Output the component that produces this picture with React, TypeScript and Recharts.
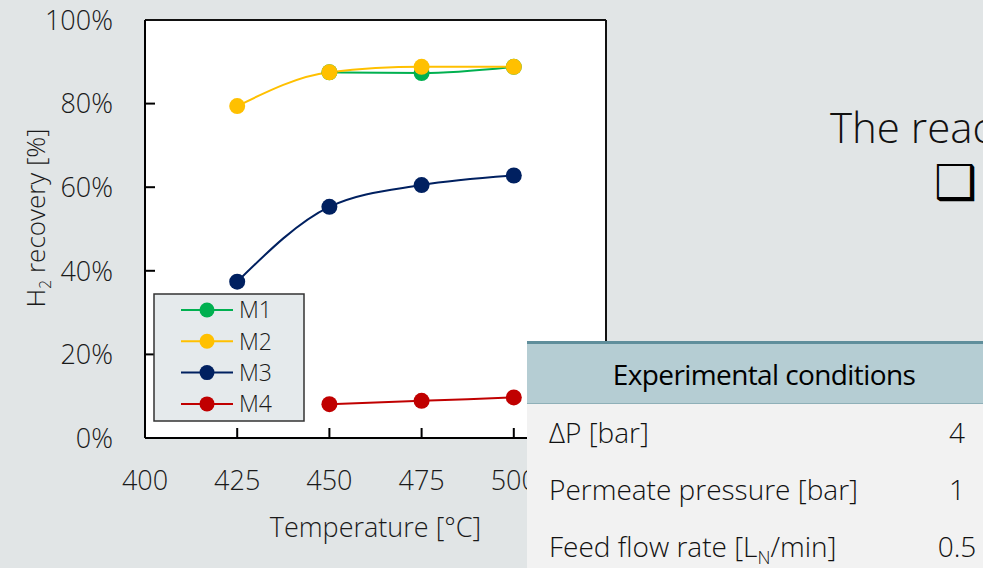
import React from 'react';
import { LineChart, Line, XAxis, YAxis, CartesianGrid, Legend, ReferenceLine } from 'recharts';

// temperatures and H2 recovery (%) for each membrane
const temperatures = [425, 450, 475, 500];
const m1 = [null, 87.5, 87.3, 88.8];
const m2 = [79.4, 87.5, 88.8, 88.8];
const m3 = [37.4, 55.3, 60.5, 62.8];
const m4 = [null, 8.1, 8.9, 9.7];

const xTicks = [400, 425, 450, 475, 500];
const yTicks = [0, 20, 40, 60, 80, 100];

const series = [
  { key: 'M1', color: '#00b050' },
  { key: 'M2', color: '#ffc000' },
  { key: 'M3', color: '#002060' },
  { key: 'M4', color: '#c00000' },
];

const conditionLabels = ['ΔP [bar]', 'Permeate pressure [bar]', 'Feed flow rate [L_N/min]'];
const conditionValues = ['4', '1', '0.5'];

const data = temperatures.map((t, i) => ({ t, M1: m1[i], M2: m2[i], M3: m3[i], M4: m4[i] }));

const FONT = "'Open Sans', 'Segoe UI', sans-serif";
const BG = '#e1e5e6';

const YTick = (props: any) => {
  const { x, y, payload } = props;
  return (
    <g>
      {payload.value > 0 && payload.value < 100 && (
        <line x1={x + 32} x2={x + 42} y1={y} y2={y} stroke="#000" strokeWidth={2} />
      )}
      <text x={x} y={y} dy="0.36em" textAnchor="end" fontSize={27} fontWeight={300} fill="#1a1a1a" fontFamily={FONT}>
        {payload.value}%
      </text>
    </g>
  );
};

const XTick = (props: any) => {
  const { x, y, payload } = props;
  return (
    <g>
      {payload.value > 400 && (
        <line x1={x} x2={x} y1={y} y2={y - 10} stroke="#000" strokeWidth={2} />
      )}
      <text x={x} y={y + 52} textAnchor="middle" fontSize={27} fontWeight={300} fill="#1a1a1a" fontFamily={FONT}>
        {payload.value}
      </text>
    </g>
  );
};

const LegendBox = () => (
  <svg width={152} height={129} style={{ display: 'block' }}>
    <rect x={1} y={1} width={150} height={127} fill="#e5eaec" stroke="#333" strokeWidth={1.5} />
    {series.map((s, i) => {
      const cy = 17 + i * 31.3;
      return (
        <g key={s.key}>
          <line x1={28} x2={80} y1={cy} y2={cy} stroke={s.color} strokeWidth={2} />
          <circle cx={54} cy={cy} r={7.5} fill={s.color} />
          <text x={86} y={cy} dy="0.36em" fontSize={23} fontWeight={300} fill="#1a1a1a" fontFamily={FONT}>
            {s.key}
          </text>
        </g>
      );
    })}
  </svg>
);

export default function App() {
  return (
    <div style={{ position: 'fixed', left: 0, top: 0, width: 983, height: 568, overflow: 'hidden', background: BG, fontFamily: FONT }}>
      <div style={{ position: 'absolute', left: 0, top: 0 }}>
        <LineChart width={983} height={568} data={data} margin={{ top: 20, right: 377, bottom: 70, left: 0 }}>
          <CartesianGrid horizontal={false} vertical={false} fill="#ffffff" />
          <XAxis
            dataKey="t"
            type="number"
            domain={[400, 525]}
            ticks={xTicks}
            height={60}
            tickSize={0}
            tickMargin={0}
            tickLine={false}
            axisLine={{ stroke: '#000', strokeWidth: 2 }}
            tick={<XTick />}
            label={{
              content: (p: any) => (
                <text x={p.viewBox.x + p.viewBox.width / 2} y={p.viewBox.y + 99} textAnchor="middle" fontSize={27} fontWeight={300} fill="#1a1a1a" fontFamily={FONT}>
                  Temperature [°C]
                </text>
              ),
            }}
          />
          <YAxis
            type="number"
            domain={[0, 100]}
            ticks={yTicks}
            width={145}
            tickSize={0}
            tickMargin={32}
            tickLine={false}
            axisLine={{ stroke: '#000', strokeWidth: 2 }}
            tick={<YTick />}
            label={{
              content: () => (
                <text transform="translate(45,218) rotate(-90)" textAnchor="middle" fontSize={26} fontWeight={300} fill="#1a1a1a" fontFamily={FONT}>
                  H<tspan fontSize={16} dy={6}>2</tspan>
                  <tspan dy={-6}> recovery [%]</tspan>
                </text>
              ),
            }}
          />
          <ReferenceLine y={100} stroke="#111" strokeWidth={2} />
          <ReferenceLine x={525} stroke="#111" strokeWidth={2} />
          <Legend
            layout="horizontal"
            verticalAlign="middle"
            content={() => <LegendBox />}
            wrapperStyle={{ position: 'absolute', left: 153, top: 293, width: 152, height: 129 }}
          />
          {series.map((s) => (
            <Line
              key={s.key}
              type="monotone"
              dataKey={s.key}
              stroke={s.color}
              strokeWidth={2}
              dot={{ r: 8, fill: s.color, stroke: s.color, strokeWidth: 0 }}
              activeDot={false}
              isAnimationActive={false}
            />
          ))}
        </LineChart>
      </div>

      <div style={{ position: 'absolute', left: 830, top: 99, fontSize: 42, fontWeight: 300, color: '#111', whiteSpace: 'nowrap', lineHeight: '56px' }}>
        The reaction
      </div>
      <div style={{ position: 'absolute', left: 934, top: 152, fontSize: 48, color: '#000', fontFamily: "'DejaVu Sans', sans-serif", lineHeight: '60px' }}>
        ❑
      </div>

      <div style={{ position: 'absolute', left: 527, top: 341, width: 474, height: 240, background: '#f2f2f2' }}>
        <div style={{ height: 59, borderTop: '3px solid #5f8e9b', borderBottom: '1px solid #8fb0b8', background: '#b5cdd3', display: 'flex', alignItems: 'center', justifyContent: 'center', fontSize: 28, color: '#000', letterSpacing: -0.6 }}>
          Experimental conditions
        </div>
        {conditionLabels.map((label, i) => {
          const parts = label.split('_N');
          return (
            <div key={label} style={{ position: 'relative', height: 57, fontSize: 28, fontWeight: 300, color: '#111' }}>
              <div style={{ position: 'absolute', left: 22, top: 0, lineHeight: '57px', whiteSpace: 'nowrap' }}>
                {parts.length > 1 ? (
                  <>
                    {parts[0]}
                    <sub style={{ fontSize: 18 }}>N</sub>
                    {parts[1]}
                  </>
                ) : (
                  label
                )}
              </div>
              <div style={{ position: 'absolute', left: 380, width: 100, top: 0, lineHeight: '57px', textAlign: 'center' }}>
                {conditionValues[i]}
              </div>
            </div>
          );
        })}
      </div>
    </div>
  );
}
